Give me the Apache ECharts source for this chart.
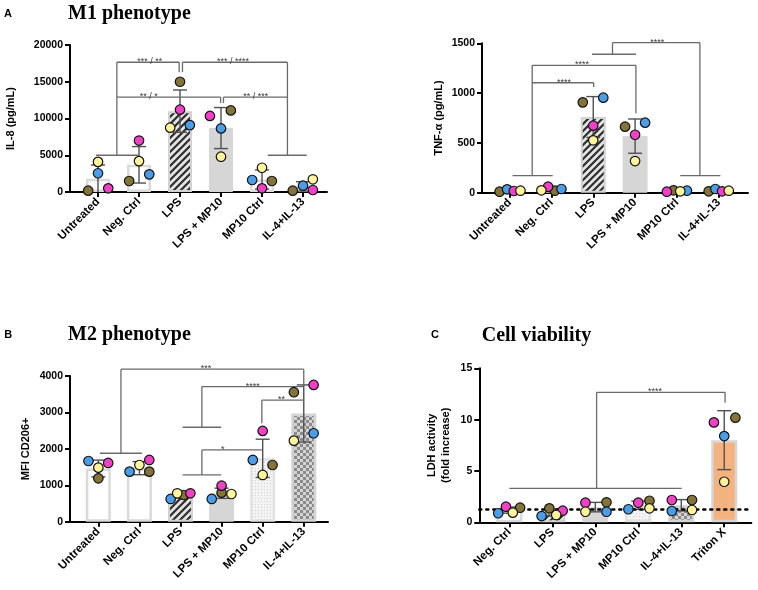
<!DOCTYPE html>
<html><head><meta charset="utf-8">
<script src="https://cdn.jsdelivr.net/npm/echarts@6.0.0/dist/echarts.min.js"></script>
<style>html,body{margin:0;padding:0;background:#fff}#c{width:758px;height:590px}</style>
</head><body><div id="c"></div>
<script>
// ================= DATA =================
const catsA = ['Untreated', 'Neg. Ctrl', 'LPS', 'LPS + MP10', 'MP10 Ctrl', 'IL-4+IL-13'];
const catsC = ['Neg. Ctrl', 'LPS', 'LPS + MP10', 'MP10 Ctrl', 'IL-4+IL-13', 'Triton X'];

// Panel A (left) IL-8 pg/mL
const il8Ticks = [0, 5000, 10000, 15000, 20000];
const il8Mean = [1800, 3700, 11000, 8700, 1700, 760];
const il8Sd = [1870, 2480, 2880, 2790, 1300, 640];
const il8Yellow = [4100, 4200, 8750, 4800, 3300, 1730];
const il8Blue = [2550, 2400, 9100, 8650, 1630, 860];
const il8Pink = [500, 7000, 11200, 10350, 500, 270];
const il8Olive = [180, 1500, 15000, 11100, 1500, 180];
const il8JitYellow = [0, 0, -0.24, 0, 0, 0.24];
const il8JitBlue = [0, 0.25, 0.24, 0, -0.24, 0];
const il8JitPink = [0.25, 0, 0, -0.27, 0, 0.24];
const il8JitOlive = [-0.24, -0.24, 0, 0.24, 0.24, -0.25];

// Panel A (right) TNF-alpha pg/mL
const tnfTicks = [0, 500, 1000, 1500];
const tnfMean = [20, 35, 760, 568, 17, 21];
const tnfSd = [10, 17, 205, 172, 6, 11];
const tnfYellow = [20, 24, 526, 318, 14, 20];
const tnfBlue = [34, 37, 954, 703, 20, 37];
const tnfPink = [17, 60, 673, 582, 10, 14];
const tnfOlive = [10, 20, 907, 663, 24, 14];
const tnfJitYellow = [0.26, -0.24, 0, 0, 0.08, 0.24];
const tnfJitBlue = [-0.06, 0.24, 0.24, 0.24, 0.24, -0.08];
const tnfJitPink = [0.1, -0.08, 0, 0, -0.24, 0.08];
const tnfJitOlive = [-0.24, 0.08, -0.25, -0.24, -0.08, -0.24];

// Panel B MFI CD206+
const mfiTicks = [0, 1000, 2000, 3000, 4000];
const mfiMean = [1460, 1470, 729, 780, 1740, 2970];
const mfiSd = [230, 180, 75, 140, 525, 785];
const mfiYellow = [1484, 1557, 780, 761, 1283, 2225];
const mfiBlue = [1667, 1374, 624, 624, 1695, 2428];
const mfiPink = [1613, 1695, 780, 989, 2492, 3755];
const mfiOlive = [1192, 1374, 733, 797, 1557, 3555];
const mfiJitYellow = [0, 0, -0.08, 0.24, 0, -0.24];
const mfiJitBlue = [-0.24, -0.24, -0.24, -0.24, -0.24, 0.24];
const mfiJitPink = [0.24, 0.24, 0.24, 0, 0, 0.24];
const mfiJitOlive = [0, 0.24, 0.08, 0, 0.24, -0.24];

// Panel C LDH activity (fold increase)
const ldhTicks = [0, 5, 10, 15];
const ldhThreshold = 1.3;
const ldhMean = [1.19, 0.95, 1.48, 1.66, 1.66, 8.0];
const ldhSd = [0.3, 0.35, 0.46, 0.4, 0.55, 2.87];
const ldhYellow = [0.94, 0.71, 1.03, 1.36, 1.2, 3.95];
const ldhBlue = [0.88, 0.61, 1.03, 1.27, 1.1, 8.4];
const ldhPink = [1.52, 1.13, 1.91, 1.91, 2.17, 9.73];
const ldhOlive = [1.42, 1.36, 1.95, 2.1, 2.17, 10.19];
const ldhJitYellow = [0.08, 0.09, -0.23, 0.26, 0.25, 0];
const ldhJitBlue = [-0.26, -0.25, 0.26, -0.23, -0.22, 0];
const ldhJitPink = [-0.08, 0.24, -0.23, 0, -0.22, -0.24];
const ldhJitOlive = [0.25, -0.07, 0.26, 0.26, 0.25, 0.26];

// Significance brackets (data coordinates: category index, value)
const il8Brackets = [
  [[-0.05, 5000], [1.0, 5000]],
  [[0.46, 5000], [0.46, 17650], [1.98, 17650], [1.98, 16300]],
  [[2.06, 16300], [2.06, 17650], [4.62, 17650], [4.62, 5000]],
  [[4.14, 5000], [5.09, 5000]],
  [[0.46, 12900], [2.99, 12900], [2.99, 12100]],
  [[3.06, 12100], [3.06, 12900], [4.62, 12900]]
];
const il8Stars = [[1.26, 17650, '*** / **'], [3.29, 17650, '*** / ****'], [1.24, 12900, '** / *'], [3.85, 12900, '** / ***']];
const tnfBrackets = [
  [[0.07, 171], [1.03, 171]],
  [[0.54, 171], [0.54, 1279], [3.02, 1279], [3.02, 797]],
  [[0.54, 1104], [2.01, 1104], [2.01, 1060]],
  [[1.97, 1390], [3.02, 1390]],
  [[2.46, 1390], [2.46, 1506], [4.55, 1506], [4.55, 171]],
  [[4.08, 171], [5.04, 171]]
];
const tnfStars = [[1.3, 1104, '****'], [1.73, 1279, '****'], [3.53, 1506, '****']];
const mfiBrackets = [
  [[0.04, 1879], [1.06, 1879]],
  [[0.55, 1879], [0.55, 4186], [5.0, 4186], [5.0, 3760]],
  [[2.05, 2593], [2.99, 2593]],
  [[2.52, 2593], [2.52, 3709], [5.0, 3709]],
  [[3.98, 2703], [3.98, 3335], [5.0, 3335]],
  [[2.05, 1283], [2.99, 1283]],
  [[2.52, 1283], [2.52, 1970], [3.98, 1970]]
];
const mfiStars = [[2.62, 4186, '***'], [3.76, 3709, '****'], [4.46, 3335, '**'], [3.03, 1970, '*']];
const ldhBrackets = [
  [[0, 3.31], [4.01, 3.31]],
  [[2.03, 3.31], [2.03, 12.66], [5.02, 12.66], [5.02, 11.65]]
];
const ldhStars = [[3.39, 12.66, '****']];

// ================= RENDERING =================
const YELLOW = '#fff59a', BLUE = '#4a9de6', PINK = '#f041c6', OLIVE = '#85743a';
const FONT = '"Liberation Sans", Arial, sans-serif';

function mkCanvas(s, draw) { const c = document.createElement('canvas'); c.width = c.height = s; draw(c.getContext('2d'), s); return c; }
const hatchImg = mkCanvas(7, (g, s) => {
  g.fillStyle = '#e4e4e4'; g.fillRect(0, 0, s, s);
  g.strokeStyle = '#2e2e2e'; g.lineWidth = 2.2; g.beginPath();
  for (const o of [-s, 0, s]) { g.moveTo(o - 1, s + 1); g.lineTo(o + s + 1, -1); }
  g.stroke();
});
const checkImg = mkCanvas(6, (g, s) => {
  g.fillStyle = '#d4d4d4'; g.fillRect(0, 0, s, s);
  g.fillStyle = '#8a8a8a'; g.fillRect(0, 0, 3, 3); g.fillRect(3, 3, 3, 3);
});
const dotImg = mkCanvas(3, (g, s) => {
  g.fillStyle = '#f3f3f3'; g.fillRect(0, 0, s, s);
  g.fillStyle = '#d2d2d2'; g.fillRect(0, 0, 1, 1);
});
const fills = {
  plain: { color: '#ffffff', borderColor: '#dadada', borderWidth: 2.5 },
  hatch: { color: { image: hatchImg, repeat: 'repeat' }, borderColor: '#d2d2d2', borderWidth: 2 },
  solid: { color: '#d6d6d6', borderColor: '#d6d6d6', borderWidth: 1 },
  dots: { color: { image: dotImg, repeat: 'repeat' }, borderColor: '#e2e2e2', borderWidth: 2.5 },
  check: { color: { image: checkImg, repeat: 'repeat' }, borderColor: '#d4d4d4', borderWidth: 2.5 },
  orange: { color: '#f4b27f', borderColor: '#d6d6d6', borderWidth: 2.5 }
};
const kindsA = ['plain', 'plain', 'hatch', 'solid', 'plain', 'plain'];
const kindsB = ['plain', 'plain', 'hatch', 'solid', 'dots', 'check'];
const kindsC = ['plain', 'hatch', 'solid', 'dots', 'check', 'orange'];

const panels = [
  { cats: catsA, ticks: il8Ticks, mean: il8Mean, sd: il8Sd, kinds: kindsA, barW: 24,
    pts: [[il8Olive, il8JitOlive, OLIVE], [il8Blue, il8JitBlue, BLUE], [il8Pink, il8JitPink, PINK], [il8Yellow, il8JitYellow, YELLOW]],
    brackets: il8Brackets, stars: il8Stars, name: 'IL-8 (pg/mL)', nameGap: 52,
    grid: { left: 70, top: 45, width: 257, height: 147 }, xmin: -0.683, xmax: 5.585 },
  { cats: catsA, ticks: tnfTicks, mean: tnfMean, sd: tnfSd, kinds: kindsA, barW: 25,
    pts: [[tnfOlive, tnfJitOlive, OLIVE], [tnfBlue, tnfJitBlue, BLUE], [tnfPink, tnfJitPink, PINK], [tnfYellow, tnfJitYellow, YELLOW]],
    brackets: tnfBrackets, stars: tnfStars, name: 'TNF-\u03b1 (pg/mL)', nameGap: 36,
    grid: { left: 482, top: 43.3, width: 266, height: 149.4 }, xmin: -0.66, xmax: 5.70 },
  { cats: catsA, ticks: mfiTicks, mean: mfiMean, sd: mfiSd, kinds: kindsB, barW: 25,
    pts: [[mfiOlive, mfiJitOlive, OLIVE], [mfiBlue, mfiJitBlue, BLUE], [mfiPink, mfiJitPink, PINK], [mfiYellow, mfiJitYellow, YELLOW]],
    brackets: mfiBrackets, stars: mfiStars, name: 'MFI CD206+', nameGap: 37,
    grid: { left: 70, top: 376, width: 258, height: 145.7 }, xmin: -0.69, xmax: 5.59 },
  { cats: catsC, ticks: ldhTicks, mean: ldhMean, sd: ldhSd, kinds: kindsC, barW: 26,
    pts: [[ldhOlive, ldhJitOlive, OLIVE], [ldhBlue, ldhJitBlue, BLUE], [ldhPink, ldhJitPink, PINK], [ldhYellow, ldhJitYellow, YELLOW]],
    brackets: ldhBrackets, stars: ldhStars, name: 'LDH activity\n(fold increase)', nameGap: 26,
    grid: { left: 479.3, top: 368.3, width: 272, height: 154 }, xmin: -0.70, xmax: 5.63, threshold: ldhThreshold }
];

const grids = [], xAxes = [], yAxes = [], series = [];
const idx6 = [0, 1, 2, 3, 4, 5];
panels.forEach((p, k) => {
  grids.push(Object.assign({ containLabel: false }, p.grid));
  xAxes.push({
    type: 'value', gridIndex: k, min: p.xmin, max: p.xmax, splitLine: { show: false },
    axisLine: { show: true, onZero: false, lineStyle: { color: '#000', width: 2 } },
    axisTick: { show: true, customValues: idx6, length: 5, lineStyle: { color: '#000', width: 2 } },
    axisLabel: { show: true, customValues: idx6, rotate: 45, margin: 8, formatter: v => p.cats[Math.round(v)],
      color: '#000', fontWeight: 'bold', fontSize: 11.5, fontFamily: FONT }
  });
  const tk = p.ticks;
  yAxes.push({
    type: 'value', gridIndex: k, min: tk[0], max: tk[tk.length - 1], interval: tk[1] - tk[0], splitLine: { show: false },
    axisLine: { show: true, onZero: false, lineStyle: { color: '#000', width: 2 } },
    axisTick: { show: true, length: 5, lineStyle: { color: '#000', width: 2 } },
    axisLabel: { show: true, margin: 7, color: '#000', fontWeight: 'bold', fontSize: 10.5, fontFamily: FONT,
      formatter: v => String(v) },
    name: p.name, nameLocation: 'middle', nameRotate: 90, nameGap: p.nameGap,
    nameTextStyle: { color: '#000', fontWeight: 'bold', fontSize: 11, fontFamily: FONT, lineHeight: 14 }
  });
  const bar = {
    type: 'bar', xAxisIndex: k, yAxisIndex: k, barWidth: p.barW, z: 1, silent: true, animation: false,
    data: p.mean.map((m, i) => ({ value: [i, m], itemStyle: fills[p.kinds[i]] }))
  };
  if (p.threshold !== undefined) {
    bar.markLine = { silent: true, symbol: 'none', animation: false, label: { show: false },
      lineStyle: { color: '#000', width: 2.5, type: [2, 5], cap: 'round' }, data: [{ yAxis: p.threshold }] };
  }
  series.push(bar);
  // error bars
  series.push({
    type: 'custom', xAxisIndex: k, yAxisIndex: k, z: 2, silent: true, animation: false,
    encode: { x: 0, y: 1 },
    data: p.mean.map((m, i) => [i, m, p.sd[i]]),
    renderItem: (params, api) => {
      const x = api.value(0), m = api.value(1), s = api.value(2);
      const t = api.coord([x, m + s]); const lo = Math.max(0, m - s); const b = api.coord([x, lo]);
      const st = { stroke: '#505050', lineWidth: 1.4 };
      const ch = [
        { type: 'line', shape: { x1: t[0], y1: t[1], x2: b[0], y2: b[1] }, style: st },
        { type: 'line', shape: { x1: t[0] - 7, y1: t[1], x2: t[0] + 7, y2: t[1] }, style: st }
      ];
      if (m - s > 0) ch.push({ type: 'line', shape: { x1: b[0] - 7, y1: b[1], x2: b[0] + 7, y2: b[1] }, style: st });
      return { type: 'group', children: ch };
    }
  });
  // brackets
  const segs = [];
  p.brackets.forEach(pl => { for (let j = 0; j < pl.length - 1; j++) segs.push([pl[j][0], pl[j][1], pl[j + 1][0], pl[j + 1][1]]); });
  series.push({
    type: 'custom', xAxisIndex: k, yAxisIndex: k, z: 3, silent: true, animation: false, clip: false,
    encode: { x: [0, 2], y: [1, 3] }, data: segs,
    renderItem: (params, api) => {
      const a = api.coord([api.value(0), api.value(1)]), b = api.coord([api.value(2), api.value(3)]);
      return { type: 'line', shape: { x1: a[0], y1: a[1], x2: b[0], y2: b[1] }, style: { stroke: '#6a6a6a', lineWidth: 1.3 } };
    }
  });
  // star labels
  series.push({
    type: 'custom', xAxisIndex: k, yAxisIndex: k, z: 6, silent: true, animation: false, clip: false,
    encode: { x: 0, y: 1 }, data: p.stars.map(s => [s[0], s[1]]),
    renderItem: (params, api) => {
      const c = api.coord([api.value(0), api.value(1)]);
      return { type: 'text', x: c[0], y: c[1] - 0.5, style: { text: p.stars[params.dataIndex][2], fill: '#3a3a3a',
        fontSize: 9, fontFamily: FONT, align: 'center', verticalAlign: 'middle' } };
    }
  });
  // points
  p.pts.forEach(([vals, jit, col]) => {
    series.push({
      type: 'scatter', xAxisIndex: k, yAxisIndex: k, z: 5, silent: true, animation: false,
      symbol: 'circle', symbolSize: 9.5,
      itemStyle: { color: col, borderColor: '#111', borderWidth: 1.2, opacity: 1 },
      data: vals.map((v, i) => [i + jit[i], v])
    });
  });
});

const titleFont = 'bold 20px "Liberation Serif", "Times New Roman", serif';
const letterFont = 'bold 11px ' + FONT;
const graphic = [
  { type: 'text', x: 8, y: 14, style: { text: 'A', font: letterFont, fill: '#000', align: 'center', verticalAlign: 'middle' } },
  { type: 'text', x: 68, y: 13.5, style: { text: 'M1 phenotype', font: titleFont, fill: '#000', verticalAlign: 'middle' } },
  { type: 'text', x: 8.3, y: 335, style: { text: 'B', font: letterFont, fill: '#000', align: 'center', verticalAlign: 'middle' } },
  { type: 'text', x: 68, y: 335, style: { text: 'M2 phenotype', font: titleFont, fill: '#000', verticalAlign: 'middle' } },
  { type: 'text', x: 435, y: 335, style: { text: 'C', font: letterFont, fill: '#000', align: 'center', verticalAlign: 'middle' } },
  { type: 'text', x: 481.7, y: 335.5, style: { text: 'Cell viability', font: titleFont, fill: '#000', verticalAlign: 'middle' } }
];

const chart = echarts.init(document.getElementById('c'), null, { renderer: 'canvas' });
chart.setOption({ animation: false, backgroundColor: '#fff', grid: grids, xAxis: xAxes, yAxis: yAxes, series, graphic });
</script>
</body></html>
